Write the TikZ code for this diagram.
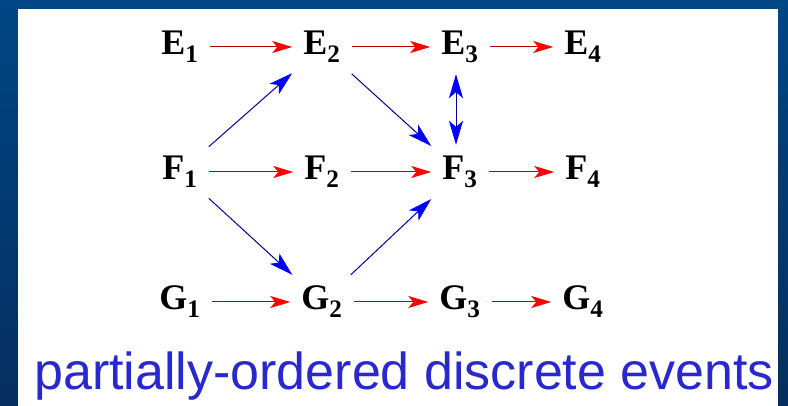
\documentclass[tikz,border=0pt]{standalone}
\usepackage{fontspec}
\setmainfont{Liberation Serif}
\setsansfont{Liberation Sans}
\usetikzlibrary{arrows.meta,positioning}

\definecolor{slidetop}{RGB}{0,70,132}
\definecolor{slidebot}{RGB}{6,46,96}
\definecolor{capblue}{RGB}{40,40,205}

\tikzset{
  ev/.style={font=\fontsize{36}{36}\selectfont\bfseries, inner sep=11pt},
  ord/.style={draw=red!70!black, line width=1pt,
    >={Stealth[length=20pt,width=12pt,inset=5pt,color=red]}, ->},
  caus/.style={draw=blue!60!black, line width=1pt,
    >={Stealth[length=24pt,width=14pt,inset=6pt,color=blue]}, ->},
}

\begin{document}
\begin{tikzpicture}[x=40pt,y=40pt]
        % slide frame and white panel
        \shade[top color=slidetop, bottom color=slidebot] (0,0) rectangle (19.7,10.15);
        \fill[white] (0.45,0) rectangle (19.45,9.925);
        \useasboundingbox (0,0) rectangle (19.7,10.15);
        % events
        \node[ev] (e1) at (4.5,8.975) {E\textsubscript{1}};
        \node[ev] (e2) at (8.05,8.975) {E\textsubscript{2}};
        \node[ev] (e3) at (11.5,8.975) {E\textsubscript{3}};
        \node[ev] (e4) at (14.575,8.975) {E\textsubscript{4}};
        \node[ev] (f1) at (4.5,5.85) {F\textsubscript{1}};
        \node[ev] (f2) at (8.05,5.85) {F\textsubscript{2}};
        \node[ev] (f3) at (11.5,5.85) {F\textsubscript{3}};
        \node[ev] (f4) at (14.575,5.85) {F\textsubscript{4}};
        \node[ev] (g1) at (4.5,2.6) {G\textsubscript{1}};
        \node[ev] (g2) at (8.05,2.6) {G\textsubscript{2}};
        \node[ev] (g3) at (11.5,2.6) {G\textsubscript{3}};
        \node[ev] (g4) at (14.575,2.6) {G\textsubscript{4}};
        % local order
        \draw[ord] (e1)--(e2);
        \draw[ord] (e2)--(e3);
        \draw[ord] (e3)--(e4);
        \draw[ord] (f1)--(f2);
        \draw[ord] (f2)--(f3);
        \draw[ord] (f3)--(f4);
        \draw[ord] (g1)--(g2);
        \draw[ord] (g2)--(g3);
        \draw[ord] (g3)--(g4);
        % messages
        \draw[caus] (f1)--(e2);
        \draw[caus] (e2)--(f3);
        \draw[caus] (f1)--(g2);
        \draw[caus] (g2)--(f3);
        \draw[caus,<->] ([xshift=-4pt]e3.south)--([xshift=-4pt]f3.north);
        \node[anchor=base west,font=\sffamily\fontsize{52}{52}\selectfont,text=capblue,inner sep=0pt] (cap) at (0.85,0.4)
          {partially-ordered discrete events};
      \end{tikzpicture}
\end{document}
